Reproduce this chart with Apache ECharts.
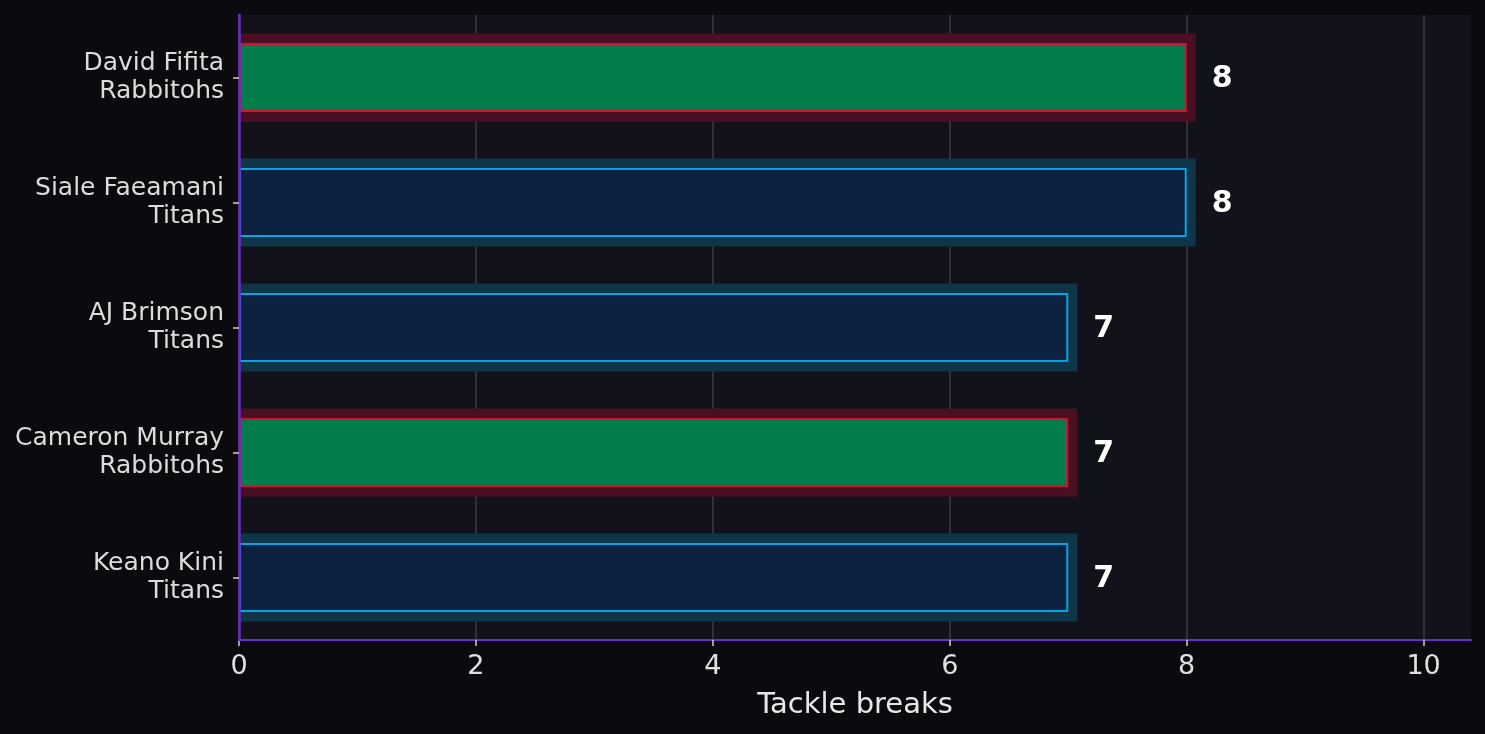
<!DOCTYPE html>
<html>
<head>
<meta charset="utf-8">
<script src="https://cdn.jsdelivr.net/npm/echarts@6/dist/echarts.min.js"></script>
<style>
  html, body { margin: 0; padding: 0; background: #0b0b0f; }
  #main { width: 1485px; height: 734px; }
</style>
</head>
<body>
<div id="main"></div>
<script>
// chart data, top to bottom
var players = ['David Fifita', 'Siale Faeamani', 'AJ Brimson', 'Cameron Murray', 'Keano Kini'];
var teams = ['Rabbitohs', 'Titans', 'Titans', 'Rabbitohs', 'Titans'];
var tackleBreaks = [8, 8, 7, 7, 7];
var xTicks = [0, 2, 4, 6, 8, 10];

var teamStyle = {
  Rabbitohs: { fill: '#007d4b', border: '#d8102f', glow: '#4a0f22' },
  Titans: { fill: '#0c2240', border: '#0aa2e2', glow: '#0f3549' }
};

var categories = players.map(function (p, i) { return p + '\n' + teams[i]; });

var barData = tackleBreaks.map(function (v, i) {
  var s = teamStyle[teams[i]];
  return { value: v, itemStyle: { color: s.fill, borderColor: s.border } };
});

var glowData = tackleBreaks.map(function (v, i) { return [v, i]; });

var chartDom = document.getElementById('main');
var myChart = echarts.init(chartDom);
var option;

option = {
  backgroundColor: '#0b0b0f',
  animation: false,
  textStyle: { fontFamily: 'DejaVu Sans' },
  grid: {
    left: 239, right: 14, top: 15, bottom: 94,
    show: true, backgroundColor: '#12121a', borderWidth: 0
  },
  xAxis: {
    type: 'value',
    min: 0,
    max: 10.4,
    interval: 2,
    name: 'Tackle breaks',
    nameLocation: 'middle',
    nameGap: 51,
    nameTextStyle: { color: '#e8e8e8', fontSize: 29 },
    axisLine: { show: true, lineStyle: { color: '#6a2ec4', width: 2 } },
    axisTick: { show: true, length: 6, customValues: xTicks, lineStyle: { color: '#d0d0d0', width: 1.5 } },
    axisLabel: { color: '#e0e0e0', fontSize: 27, margin: 13, customValues: xTicks },
    splitLine: {
      show: true,
      lineStyle: {
        color: ['#3c3c44', '#3c3c44', '#3c3c44', '#3c3c44', '#3c3c44', '#3c3c44', 'rgba(0,0,0,0)'],
        width: 1.5
      }
    }
  },
  yAxis: {
    type: 'category',
    z: 10,
    data: categories,
    inverse: true,
    axisLine: { show: true, lineStyle: { color: '#6a2ec4', width: 2.5 } },
    axisTick: { show: true, alignWithLabel: true, length: 6, lineStyle: { color: '#d0d0d0', width: 1.5 } },
    axisLabel: { color: '#dcdcdc', fontSize: 25, lineHeight: 28, margin: 15, align: 'right' },
    splitLine: { show: false }
  },
  series: [
    {
      name: 'glow',
      type: 'custom',
      z: 1,
      silent: true,
      encode: { x: 0, y: 1 },
      data: glowData,
      renderItem: function (params, api) {
        var end = api.coord([api.value(0), api.value(1)]);
        var start = api.coord([0, api.value(1)]);
        var h = 88;
        var pad = 9;
        return {
          type: 'rect',
          shape: { x: start[0], y: end[1] - h / 2, width: end[0] - start[0] + pad, height: h },
          style: { fill: teamStyle[teams[params.dataIndex]].glow }
        };
      }
    },
    {
      name: 'Tackle breaks',
      type: 'bar',
      z: 2,
      barWidth: 69,
      data: barData,
      itemStyle: { borderWidth: 2 },
      label: {
        show: true,
        position: 'right',
        distance: 25,
        offset: [0, 2],
        formatter: '{c}',
        color: '#ffffff',
        fontWeight: 'bold',
        fontSize: 30
      }
    }
  ]
};
option && myChart.setOption(option);
</script>
</body>
</html>
